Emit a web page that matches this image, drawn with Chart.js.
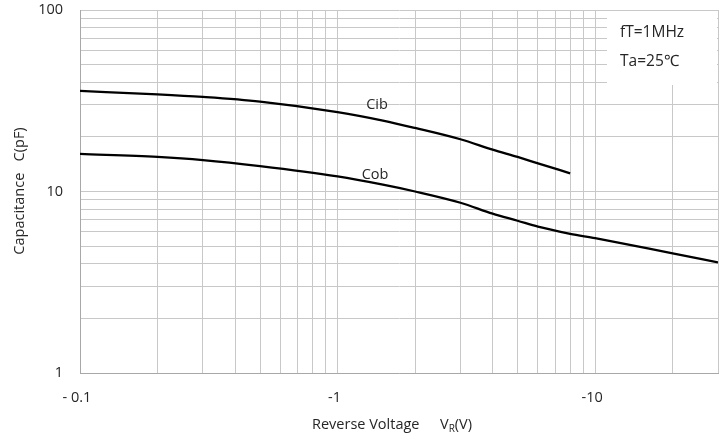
<!DOCTYPE html>
<html>
<head>
<meta charset="utf-8">
<script src="https://cdn.jsdelivr.net/npm/chart.js@4.4.1/dist/chart.umd.min.js"></script>
<style>
    html, body { margin: 0; padding: 0; background: #fff; }
    #wrap { width: 726px; height: 436px; position: relative; }
</style>
</head>
<body>
<div id="wrap"><canvas id="capChart"></canvas></div>
<script>
// Reverse voltage |VR| (V), plotted as negative values
const cibVoltage = [0.1, 0.2, 0.3, 0.5, 1, 1.5, 2, 3, 4, 5, 6, 8];
const cibValues  = [35.8, 34.3, 33.2, 31.3, 27.4, 24.6, 22.4, 19.4, 17.0, 15.5, 14.3, 12.6];

const cobVoltage = [0.1, 0.2, 0.3, 0.5, 1, 1.5, 2, 3, 4, 5, 6, 8, 10, 20, 30];
const cobValues  = [16.1, 15.5, 14.9, 13.8, 12.1, 10.9, 10.0, 8.67, 7.55, 6.9, 6.4, 5.85, 5.53, 4.56, 4.07];

const xTicks = [0.1, 0.2, 0.3, 0.4, 0.5, 0.6, 0.7, 0.8, 0.9, 1, 2, 3, 4, 5, 6, 7, 8, 9, 10, 20, 30];
const xTickLabels = { 0.1: '- 0.1', 1: '-1', 10: '-10' };
const yTicks = [1, 2, 3, 4, 5, 6, 7, 8, 9, 10, 20, 30, 40, 50, 60, 70, 80, 90, 100];
const yTickLabels = { 1: '1', 10: '10', 100: '100' };

const FONT = '"Open Sans", sans-serif';
const TEXT = '#262626';

// Blank box in the top-right corner with the test conditions, plus curve names and axis titles
const decorPlugin = {
    id: 'decor',
    beforeDatasetsDraw(chart) {
        const ctx = chart.ctx;
        const a = chart.chartArea;
        ctx.save();
        ctx.fillStyle = '#fff';
        ctx.fillRect(607, a.top + 1, a.right - 607 - 1, 74);
        ctx.fillStyle = TEXT;
        ctx.font = '15.5px ' + FONT;
        ctx.textBaseline = 'middle';
        ctx.fillText('fT=1MHz', 620, 33);
        ctx.fillText('Ta=25\u2103', 620, 62);
        ctx.restore();
    },
    afterDraw(chart) {
        const ctx = chart.ctx;
        ctx.save();
        ctx.fillStyle = TEXT;
        ctx.font = '14.5px ' + FONT;
        ctx.textAlign = 'center';
        ctx.textBaseline = 'middle';
        ctx.fillText('Cib', 377, 105);
        ctx.fillText('Cob', 375, 175);

        // y title
        ctx.save();
        ctx.translate(20, 191);
        ctx.rotate(-Math.PI / 2);
        ctx.fillText('Capacitance   C(pF)', 0, 0);
        ctx.restore();

        // x title with subscript R
        ctx.textAlign = 'left';
        ctx.fillText('Reverse Voltage', 312, 425);
        let x = 440;
        ctx.fillText('V', x, 425);
        x += ctx.measureText('V').width;
        ctx.font = '10px ' + FONT;
        ctx.fillText('R', x, 429);
        x += ctx.measureText('R').width;
        ctx.font = '14.5px ' + FONT;
        ctx.fillText('(V)', x, 425);
        ctx.restore();
    }
};

new Chart(document.getElementById('capChart'), {
    type: 'line',
    data: {
        datasets: [
            {
                label: 'Cib',
                data: cibVoltage.map((v, i) => ({ x: v, y: cibValues[i] })),
                borderColor: '#000',
                borderWidth: 2.3,
                pointRadius: 0,
                cubicInterpolationMode: 'monotone'
            },
            {
                label: 'Cob',
                data: cobVoltage.map((v, i) => ({ x: v, y: cobValues[i] })),
                borderColor: '#000',
                borderWidth: 2.3,
                pointRadius: 0,
                cubicInterpolationMode: 'monotone'
            }
        ]
    },
    options: {
        responsive: true,
        maintainAspectRatio: false,
        animation: false,
        layout: { autoPadding: false, padding: { top: 10, right: 8, bottom: 0, left: 0 } },
        plugins: {
            legend: { display: false },
            tooltip: { enabled: false }
        },
        scales: {
            x: {
                type: 'logarithmic',
                min: 0.1,
                max: 30,
                afterBuildTicks: s => { s.ticks = xTicks.map(v => ({ value: v })); },
                afterFit: s => {
                    s.height = 63;
                    s.paddingLeft = 0;
                    s.paddingRight = 0;
                },
                ticks: {
                    autoSkip: false,
                    maxRotation: 0,
                    color: TEXT,
                    font: { family: FONT, size: 14.5 },
                    padding: 16,
                    labelOffset: -3,
                    callback: v => xTickLabels[v] || ''
                },
                grid: { color: '#c8c8c8', lineWidth: 1, drawTicks: false },
                border: { color: '#a8a8a8' }
            },
            y: {
                type: 'logarithmic',
                min: 1,
                max: 100,
                afterBuildTicks: s => { s.ticks = yTicks.map(v => ({ value: v })); },
                afterFit: s => {
                    s.width = 80;
                    s.paddingTop = 0;
                    s.paddingBottom = 0;
                },
                ticks: {
                    autoSkip: false,
                    color: TEXT,
                    font: { family: FONT, size: 14.5 },
                    padding: 17,
                    callback: v => yTickLabels[v] || ''
                },
                grid: { color: '#c8c8c8', lineWidth: 1, drawTicks: false },
                border: { color: '#a8a8a8' }
            }
        }
    },
    plugins: [decorPlugin]
});
</script>
</body>
</html>
